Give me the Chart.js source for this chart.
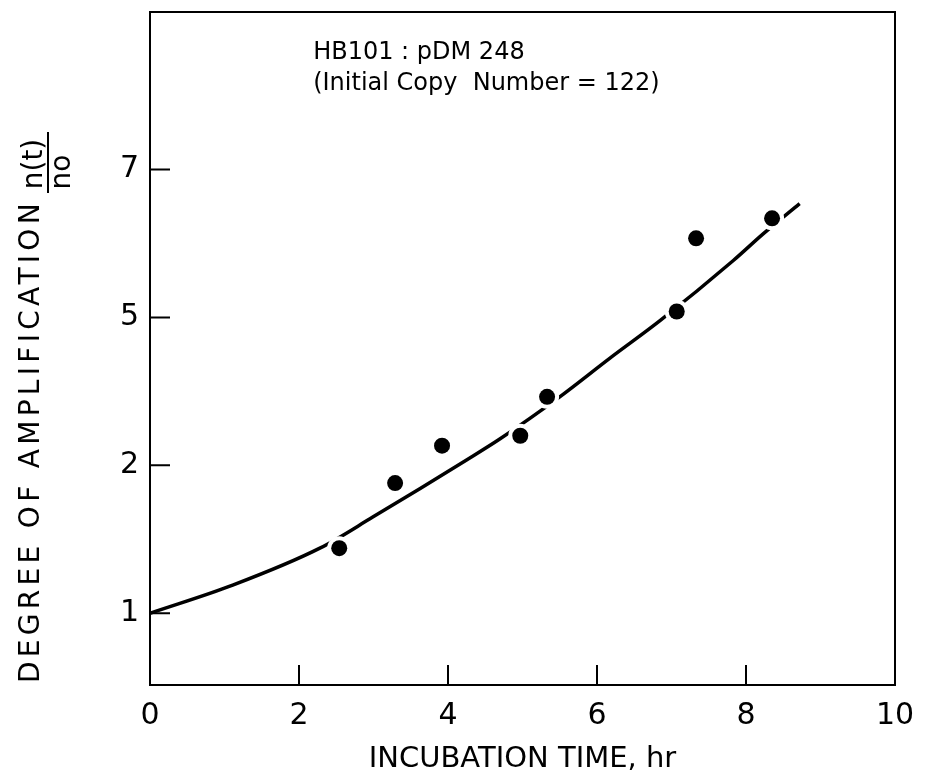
<!DOCTYPE html>
<html>
<head>
<meta charset="utf-8">
<script src="https://cdn.jsdelivr.net/npm/chart.js@4"></script>
<style>
html,body{margin:0;padding:0;background:#fff;}
#wrap{width:935px;height:784px;position:relative;}
</style>
</head>
<body>
<div id="wrap"><canvas id="c"></canvas></div>
<script>
// ---- data ----
const yTickLabels = ['1', '2', '5', '7'];
const yTickValues = [1, 2, 5, 7];
const xTickValues = [0, 2, 4, 6, 8, 10];

const pointTimes = [2.54, 3.29, 3.92, 4.97, 5.33, 7.07, 7.33, 8.35];
const pointAmp   = [1.44, 1.88, 2.40, 2.60, 3.39, 5.08, 6.07, 6.34];

const curveTimes = [0, 1.11, 2.28, 2.99, 4.26, 4.70, 5.50, 6.17, 6.85, 7.83, 8.23, 8.72];
const curveAmp   = [1.00, 1.19, 1.44, 1.65, 2.12, 2.54, 3.39, 4.17, 4.94, 5.77, 6.13, 6.54];

const annotation = ['HB101 : pDM 248', '(Initial Copy  Number = 122)'];
const xTitle = 'INCUBATION TIME, hr';
const yTitle = 'DEGREE OF AMPLIFICATION';
const fracNum = 'n(t)';
const fracDen = 'no';

// the y axis has equally spaced ticks labelled 1, 2, 5, 7: map a value to its tick position
function toPos(v) {
  const t = yTickValues;
  if (v <= t[0]) return (v - t[0]) / (t[1] - t[0]);
  for (let i = 0; i < t.length - 1; i++) {
    if (v <= t[i + 1]) return i + (v - t[i]) / (t[i + 1] - t[i]);
  }
  const n = t.length - 1;
  return n + (v - t[n]) / (t[n] - t[n - 1]);
}

const pts = pointTimes.map((x, i) => ({x, y: toPos(pointAmp[i])}));
const curve = curveTimes.map((x, i) => ({x, y: toPos(curveAmp[i])}));

const FONT = '"DejaVu Sans", sans-serif';
Chart.defaults.font.family = FONT;
Chart.defaults.color = '#000';

const framePlugin = {
  id: 'frame',
  afterDraw(chart) {
    const {ctx, chartArea: a, scales: {x, y}} = chart;
    ctx.save();
    ctx.strokeStyle = '#000';
    ctx.lineWidth = 2;
    ctx.strokeRect(a.left, a.top, a.right - a.left, a.bottom - a.top);
    // inward tick marks
    ctx.beginPath();
    xTickValues.forEach(v => {
      if (v <= x.min || v >= x.max) return;
      const px = x.getPixelForValue(v);
      ctx.moveTo(px, a.bottom);
      ctx.lineTo(px, a.bottom - 20);
    });
    yTickValues.forEach((v, i) => {
      const py = y.getPixelForValue(i);
      ctx.moveTo(a.left, py);
      ctx.lineTo(a.left + 20, py);
    });
    ctx.stroke();

    // annotation text
    ctx.fillStyle = '#000';
    ctx.font = '24px ' + FONT;
    ctx.textAlign = 'left';
    ctx.textBaseline = 'alphabetic';
    const ax = x.getPixelForValue(2.19);
    ctx.fillText(annotation[0], ax, a.top + 47);
    ctx.fillText(annotation[1], ax, a.top + 78);

    // y axis title (rotated)
    ctx.save();
    ctx.translate(32, a.bottom - 2);
    ctx.rotate(-Math.PI / 2);
    ctx.font = '28px ' + FONT;
    try { ctx.letterSpacing = '4.3px'; } catch (e) {}
    ctx.textAlign = 'left';
    ctx.textBaseline = 'middle';
    ctx.fillText(yTitle, 0, 0);
    ctx.restore();

    // fraction n(t)/no
    ctx.save();
    ctx.translate(48, 193);
    ctx.rotate(-Math.PI / 2);
    ctx.lineWidth = 2;
    ctx.beginPath();
    ctx.moveTo(0, 0);
    ctx.lineTo(61, 0);
    ctx.stroke();
    ctx.font = '28px ' + FONT;
    ctx.textAlign = 'center';
    ctx.textBaseline = 'alphabetic';
    ctx.fillText(fracNum, 29, -6);
    ctx.fillText(fracDen, 21, 22);
    ctx.restore();

    ctx.restore();
  }
};

new Chart(document.getElementById('c'), {
  type: 'scatter',
  data: {
    datasets: [
      {
        label: 'curve',
        type: 'line',
        data: curve,
        borderColor: '#000',
        borderWidth: 3.5,
        pointRadius: 0,
        fill: false,
        cubicInterpolationMode: 'monotone',
        order: 3
      },
      {
        label: 'halo',
        data: pts,
        pointRadius: 12,
        pointBackgroundColor: '#fff',
        pointBorderWidth: 0,
        pointBorderColor: '#fff',
        order: 2
      },
      {
        label: 'data',
        data: pts,
        pointRadius: 8,
        pointBackgroundColor: '#000',
        pointBorderWidth: 0,
        pointBorderColor: '#000',
        order: 1
      }
    ]
  },
  options: {
    responsive: true,
    maintainAspectRatio: false,
    animation: false,
    layout: {padding: {left: 0, right: 40, top: 10, bottom: 0}},
    plugins: {legend: {display: false}, tooltip: {enabled: false}},
    scales: {
      x: {
        type: 'linear',
        min: 0, max: 10,
        grid: {display: false, drawTicks: false},
        border: {display: false},
        afterBuildTicks: s => { s.ticks = xTickValues.map(v => ({value: v})); },
        afterFit: s => { s.height = 99; s.paddingLeft = 0; s.paddingRight = 0; },
        ticks: {
          autoSkip: false, maxRotation: 0,
          padding: 13,
          font: {size: 30, family: FONT},
          color: '#000',
          callback: v => String(v)
        },
        title: {
          display: true,
          text: xTitle,
          font: {size: 29, family: FONT},
          color: '#000',
          padding: {top: 0, bottom: 7}
        }
      },
      y: {
        type: 'linear',
        min: -0.485, max: 4.065,
        grid: {display: false, drawTicks: false},
        border: {display: false},
        afterBuildTicks: s => { s.ticks = yTickValues.map((v, i) => ({value: i})); },
        afterFit: s => { s.width = 150; s.paddingTop = 0; s.paddingBottom = 0; },
        ticks: {
          autoSkip: false,
          padding: 11,
          font: {size: 30, family: FONT},
          color: '#000',
          callback: (v, i) => yTickLabels[i]
        }
      }
    }
  },
  plugins: [framePlugin]
});
</script>
</body>
</html>
